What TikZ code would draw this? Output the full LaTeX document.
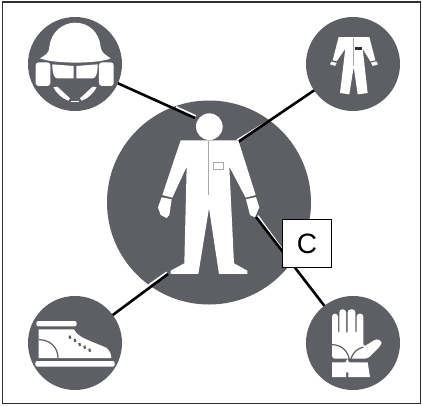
\documentclass[tikz,border=0pt]{standalone}
\usepackage{xcolor}
\usepackage{fontspec}
\setsansfont{Liberation Sans}
\usetikzlibrary{positioning}
\definecolor{BadgeGrey}{HTML}{5E5F64}
\definecolor{SeamGrey}{HTML}{A8A8AA}
\definecolor{FrameGrey}{HTML}{303030}
\begin{document}
\begin{tikzpicture}[
		x=1pt,y=-1pt,
		badge/.style={circle,fill=BadgeGrey,inner sep=0pt,outer sep=0pt,minimum size=94pt},
		hub/.style={circle,fill=BadgeGrey,inner sep=0pt,outer sep=0pt,minimum size=204pt},
		link/.style={line width=2.6pt,color=black},
		halo/.style={line width=2pt,color=white},
		cutout/.style={fill=white,draw=none},
		gap/.style={color=BadgeGrey,line width=1.2pt},
		seam/.style={color=SeamGrey,line width=1pt},
		labelbox/.style={draw=black,fill=white,line width=0.8pt,inner sep=0pt,minimum width=49pt,minimum height=48pt,font=\sffamily\fontsize{28}{28}\selectfont}
	]
	\useasboundingbox (0,0) rectangle (422,405);
	\fill[white] (0,0) rectangle (422,405);
	\draw[color=FrameGrey,line width=1.4pt] (2.5,2) rectangle (420.5,403.5);
	\node[hub] (wearer) at (209,202.5) {};
	\node[badge] (helmet) at (75,64) {};
	\node[badge] (coverall) at (353,64) {};
	\node[badge] (boot) at (75,343) {};
	\node[badge] (glove) at (353,343) {};
	\coordinate (headEnd) at (195,118);
	\coordinate (shoulderEnd) at (238,142);
	\coordinate (footEnd) at (168,274);
	\coordinate (handEnd) at (256,217);
	\coordinate (headHalo) at (176,107);
	\coordinate (shoulderHalo) at (267,122);
	\coordinate (footHalo) at (149,285);
	\coordinate (handHalo) at (284,252);
	\draw[halo] (headHalo) -- ([shift={(0.8,-1.9)}]headEnd);
	\draw[halo] (shoulderHalo) -- ([shift={(-1.1,-1.6)}]shoulderEnd);
	\draw[halo] (footHalo) -- ([shift={(-1.1,-1.6)}]footEnd);
	\draw[halo] (handHalo) -- ([shift={(1.6,-1.2)}]handEnd);
	\draw[link] (helmet) -- (headEnd);
	\draw[link] (coverall) -- (shoulderEnd);
	\draw[link] (boot) -- (footEnd);
	\draw[link] (glove) -- (handEnd);
	% wearer
	\begin{scope}[shift={(140,100)},scale=0.3333]
		\fill[white] (208,80) circle (40);
		\fill[cutout] (122,121) -- (295,121) -- (347,285) -- (317,293) -- (268,200) -- (282,490) -- (322,512) -- (322,522) -- (237,522) -- (207,325) -- (175,522) -- (92,522) -- (92,512) -- (133,490) -- (140,200) -- (97,293) -- (67,285) -- cycle;
		\fill[cutout] (65,292) -- (95,298) -- (88,345) -- (80,354) -- (62,345) -- (54,322) -- cycle;
		\fill[cutout] (318,298) -- (348,291) -- (358,322) -- (345,352) -- (330,345) -- cycle;
		\draw[seam] (205,122) -- (205,285);
		\draw[seam] (222,187) rectangle (252,210);
	\end{scope}
	% helmet
	\begin{scope}[shift={(20,10)},scale=0.3333]
		\fill[cutout] (60,145) .. controls (75,135) and (88,130) .. (88,112) .. controls (92,65) and (130,38) .. (165,38) .. controls (205,38) and (238,65) .. (242,112) .. controls (245,130) and (258,135) .. (272,145) .. controls (235,162) and (100,162) .. (60,145) -- cycle;
		\fill[cutout,rounded corners=3pt] (47,157) rectangle (91,228);
		\fill[cutout,rounded corners=3pt] (237,157) rectangle (281,228);
		\fill[cutout] (97,163) -- (161,168) -- (161,205) -- (112,205) .. controls (102,205) and (97,190) .. (97,163) -- cycle;
		\fill[cutout] (233,163) -- (169,168) -- (169,205) -- (218,205) .. controls (228,205) and (233,190) .. (233,163) -- cycle;
		\fill[cutout] (100,232) -- (112,230) -- (150,265) -- (145,272) .. controls (125,265) and (110,250) .. (100,232) -- cycle;
		\fill[cutout] (230,232) -- (218,230) -- (180,265) -- (185,272) .. controls (205,265) and (220,250) .. (230,232) -- cycle;
		\fill[cutout] (152,272) rectangle (178,276);
	\end{scope}
	% coverall
	\begin{scope}[shift={(306,17)},scale=0.3333]
		\fill[cutout] (98,60) -- (190,60) -- (208,130) -- (193,133) -- (170,95) -- (185,228) -- (155,232) -- (143,150) -- (130,232) -- (102,228) -- (118,95) -- (92,133) -- (80,130) -- cycle;
		\fill[cutout] (76,134) -- (92,138) -- (87,147) -- (72,142) -- cycle;
		\fill[cutout] (195,137) -- (211,133) -- (216,142) -- (200,147) -- cycle;
		\draw[seam] (143,62) -- (143,148);
		\fill[BadgeGrey!50!black] (146,90) rectangle (168,98);
	\end{scope}
	% boot
	\begin{scope}[shift={(28,297)},scale=0.3333]
		\fill[cutout,rounded corners=2pt] (25,72) rectangle (146,88);
		\fill[cutout] (32,97) -- (138,97) .. controls (150,120) and (170,125) .. (235,152) .. controls (245,160) and (250,172) .. (250,183) -- (32,183) -- cycle;
		\draw[gap] (32,128) .. controls (65,128) and (90,150) .. (90,183);
		\foreach \dashx/\dashy in {125/121,140/131,154/143,169/151,184/160}
			\draw[gap,line width=2.2pt] (\dashx,\dashy-5) -- (\dashx+2,\dashy+4);
		\fill[cutout,rounded corners=2pt] (22,192) rectangle (260,209);
	\end{scope}
	% glove
	\begin{scope}[shift={(306,297)},scale=0.3333]
		\fill[cutout,rounded corners=3pt] (78,185) -- (78,50) -- (96,50) -- (96,112) -- (100,112) -- (100,37) -- (120,37) -- (120,112) -- (125,112) -- (125,37) -- (148,37) -- (148,112) -- (152,112) -- (152,50) -- (172,50) -- (172,150) -- (212,125) -- (228,132) -- (225,145) -- (185,185) -- cycle;
		\draw[gap] (78,143) .. controls (105,143) and (125,160) .. (130,187);
		\draw[gap] (172,150) .. controls (155,155) and (140,165) .. (135,187);
		\fill[cutout] (78,196) -- (118,196) -- (124,186) -- (130,196) -- (185,196) -- (192,240) -- (127,240) -- (127,226) -- (120,226) -- (120,240) -- (78,240) -- cycle;
	\end{scope}
	\node[labelbox] (callout) at (307,243.5) {C};
\end{tikzpicture}
\end{document}
